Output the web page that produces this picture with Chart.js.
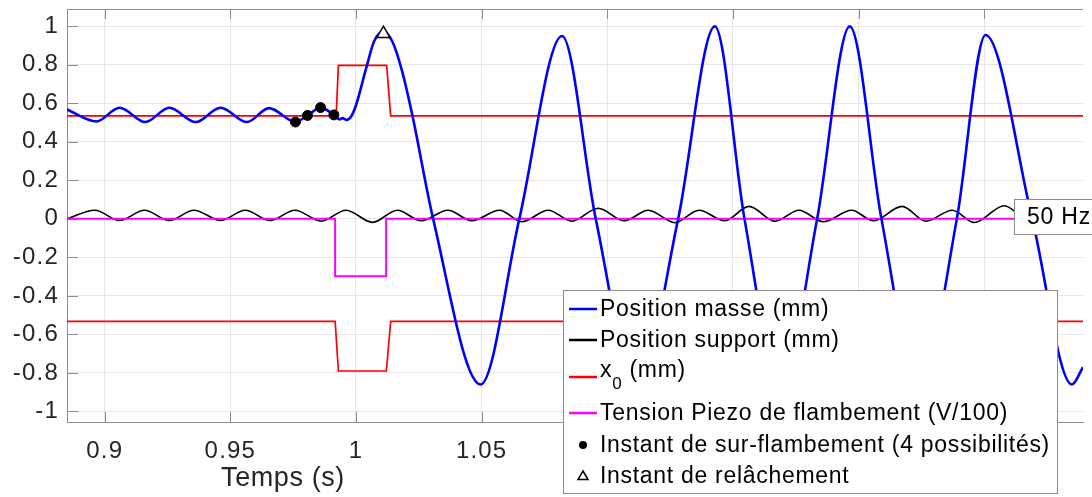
<!DOCTYPE html>
<html>
<head>
<meta charset="utf-8">
<script src="https://cdn.jsdelivr.net/npm/chart.js@4.4.1/dist/chart.umd.min.js"></script>
<style>
  html, body { margin: 0; padding: 0; background: #fff; }
</style>
</head>
<body>
<canvas id="chart" width="1092" height="497"></canvas>
<script>
"use strict";

// valeurs (temps en s)
const masseT = [0.8850, 0.8967, 0.9059, 0.9162, 0.9257, 0.9362, 0.9461, 0.9566, 0.9654, 0.9759,
  0.9807, 0.9859, 0.9912, 0.9934, 0.9947, 0.9961, 0.9980, 1.0000, 1.0040, 1.0073, 1.0109, 1.0145,
  1.0184, 1.0224, 1.0307, 1.0496, 1.0650, 1.0820, 1.0954, 1.1118, 1.1282, 1.1428, 1.1546, 1.1690,
  1.1835, 1.1965, 1.2091, 1.2241, 1.2391, 1.2505, 1.2691, 1.2849, 1.2893];
const masseY = [0.568, 0.506, 0.577, 0.503, 0.577, 0.503, 0.577, 0.503, 0.575, 0.503,
  0.537, 0.578, 0.540, 0.517, 0.523, 0.514, 0.530, 0.590, 0.780, 0.925, 0.970, 0.920,
  0.765, 0.540, 0.000, -0.860, 0.000, 0.950, 0.000, -0.870, 0.000, 1.000, 0.000, -0.870,
  0.000, 1.000, 0.000, -0.870, 0.000, 0.955, 0.000, -0.860, -0.770];

const supportT = [0.8850, 0.8961, 0.9059, 0.9158, 0.9257, 0.9355, 0.9461, 0.9559, 0.9658, 0.9757,
  0.9862, 0.9960, 1.0066, 1.0165, 1.0259, 1.0366, 1.0461, 1.0571, 1.0660, 1.0765, 1.0859, 1.0964,
  1.1068, 1.1163, 1.1269, 1.1365, 1.1467, 1.1564, 1.1668, 1.1763, 1.1860, 1.1972, 1.2059, 1.2173,
  1.2268, 1.2373, 1.2460, 1.2580, 1.2679, 1.2778, 1.2880];
const supportY = [0.000, 0.045, -0.008, 0.045, -0.008, 0.045, -0.008, 0.045, -0.008, 0.045,
  -0.012, 0.045, -0.018, 0.045, -0.010, 0.045, -0.010, 0.045, -0.015, 0.045, -0.012, 0.055,
  -0.010, 0.045, -0.020, 0.045, -0.010, 0.065, -0.012, 0.045, -0.015, 0.045, -0.010, 0.065,
  -0.012, 0.045, -0.019, 0.068, -0.010, 0.050, -0.010];

const x0HautT = [0.8850, 0.9921, 0.9930, 1.0122, 1.0138, 1.2893];
const x0HautY = [0.535, 0.535, 0.797, 0.797, 0.535, 0.535];
const x0BasT = [0.8850, 0.9917, 0.9930, 1.0121, 1.0138, 1.2893];
const x0BasY = [-0.532, -0.532, -0.790, -0.790, -0.532, -0.532];

const piezoT = [0.8850, 0.9917, 0.9917, 1.0120, 1.0120, 1.2893];
const piezoY = [0.000, 0.000, -0.298, -0.298, 0.000, 0.000];

const surT = [0.9759, 0.9807, 0.9859, 0.9912];
const surY = [0.503, 0.537, 0.578, 0.540];
const relT = [1.0109];
const relY = [0.962];

const xTicks = [0.9, 0.95, 1, 1.05, 1.1, 1.15, 1.2, 1.25];
const yTicks = [-1, -0.8, -0.6, -0.4, -0.2, 0, 0.2, 0.4, 0.6, 0.8, 1];

const labels = ["Position masse (mm)", "Position support (mm)", "x_0 (mm)",
  "Tension Piezo de flambement (V/100)", "Instant de sur-flambement (4 possibilités)",
  "Instant de relâchement"];

function pts(t, y) {
  return t.map((v, i) => ({ x: v, y: y[i] }));
}

const police = '"Liberation Sans", Arial, sans-serif';
const gris = "#8c8c8c";

const decor = {
  id: "decor",
  beforeDraw(chart) {
    chart.ctx.letterSpacing = "1.2px";
  },
  beforeDatasetsDraw(chart) {
    const ctx = chart.ctx;
    const a = chart.chartArea;
    const sx = chart.scales.x, sy = chart.scales.y;
    ctx.save();
    ctx.strokeStyle = gris;
    ctx.lineWidth = 1;
    ctx.beginPath();
    ctx.moveTo(a.left, a.top + 0.5);
    ctx.lineTo(a.right, a.top + 0.5);
    xTicks.forEach(v => {
      const p = Math.round(sx.getPixelForValue(v)) + 0.5;
      ctx.moveTo(p, a.bottom);
      ctx.lineTo(p, a.bottom - 10);
      ctx.moveTo(p, a.top);
      ctx.lineTo(p, a.top + 10);
    });
    yTicks.forEach(v => {
      const p = Math.round(sy.getPixelForValue(v)) + 0.5;
      ctx.moveTo(a.left, p);
      ctx.lineTo(a.left + 11, p);
    });
    ctx.stroke();
    ctx.restore();
  },
  afterDraw(chart) {
    const ctx = chart.ctx;
    ctx.save();

    // titre de l'axe x
    ctx.letterSpacing = "0.6px";
    ctx.fillStyle = "#262626";
    ctx.font = "27px " + police;
    ctx.textAlign = "center";
    ctx.textBaseline = "middle";
    ctx.fillText("Temps (s)", 283, 479);

    // boite 50 Hz
    ctx.fillStyle = "#fff";
    ctx.strokeStyle = gris;
    ctx.lineWidth = 1;
    ctx.fillRect(1014.5, 199.5, 90, 35);
    ctx.strokeRect(1014.5, 199.5, 90, 35);
    ctx.fillStyle = "#000";
    ctx.textAlign = "left";
    ctx.letterSpacing = "0.8px";
    ctx.font = "23px " + police;
    ctx.fillText("50 Hz", 1027, 218);

    // legende
    ctx.fillStyle = "#fff";
    ctx.fillRect(563.5, 290.5, 494, 203);
    ctx.strokeRect(563.5, 290.5, 494, 203);
    const rows = [309, 340, 377, 413, 445, 476];
    const ds = chart.data.datasets;
    const items = [ds[0], ds[1], ds[2], ds[4], ds[5], ds[6]];
    items.forEach((d, i) => {
      const y = rows[i];
      ctx.strokeStyle = d.borderColor;
      if (d.showLine !== false) {
        ctx.lineWidth = 2.5;
        ctx.beginPath();
        ctx.moveTo(569, y);
        ctx.lineTo(597, y);
        ctx.stroke();
      } else if (d.pointStyle === "triangle") {
        ctx.lineWidth = 1.5;
        ctx.strokeStyle = "#000";
        ctx.beginPath();
        ctx.moveTo(583, y - 5);
        ctx.lineTo(588, y + 3.5);
        ctx.lineTo(578, y + 3.5);
        ctx.closePath();
        ctx.stroke();
      } else {
        ctx.fillStyle = "#000";
        ctx.beginPath();
        ctx.arc(583, y, 4, 0, Math.PI * 2);
        ctx.fill();
      }
      ctx.fillStyle = "#000";
      ctx.font = "23px " + police;
      ctx.letterSpacing = "0.7px";
      const lab = labels[i];
      if (lab.indexOf("_") > 0) {
        const parts = lab.split("_");
        ctx.fillText(parts[0], 600, y - 6);
        let x = 600 + ctx.measureText(parts[0]).width;
        ctx.font = "17px " + police;
        ctx.fillText(parts[1].charAt(0), x, y + 7);
        x += ctx.measureText(parts[1].charAt(0)).width;
        ctx.font = "23px " + police;
        ctx.fillText(parts[1].slice(1), x, y - 6);
      } else {
        ctx.fillText(lab, 600, y + 1);
      }
    });
    ctx.restore();
  }
};

const ctx = document.getElementById("chart");

const chart = new Chart(ctx, {
  type: "line",
  data: {
    datasets: [
      {
        label: labels[0], data: pts(masseT, masseY), borderColor: "#0000ff",
        borderWidth: 2.6, pointRadius: 0, cubicInterpolationMode: "monotone", order: 1
      },
      {
        label: labels[1], data: pts(supportT, supportY), borderColor: "#000000",
        borderWidth: 1.6, pointRadius: 0, cubicInterpolationMode: "monotone", order: 3
      },
      {
        label: labels[2], data: pts(x0HautT, x0HautY), borderColor: "#ff0000",
        borderWidth: 1.7, pointRadius: 0, tension: 0, order: 4
      },
      {
        label: "x0 bas", data: pts(x0BasT, x0BasY), borderColor: "#ff0000",
        borderWidth: 1.7, pointRadius: 0, tension: 0, order: 4
      },
      {
        label: labels[3], data: pts(piezoT, piezoY), borderColor: "#ff00ff",
        borderWidth: 2, pointRadius: 0, tension: 0, order: 2
      },
      {
        label: labels[4], data: pts(surT, surY), borderColor: "#000000",
        backgroundColor: "#000000", showLine: false, pointRadius: 5,
        pointStyle: "circle", order: 0
      },
      {
        label: labels[5], data: pts(relT, relY), borderColor: "#000000",
        backgroundColor: "#ffffff", showLine: false, pointRadius: 7.5,
        pointBorderWidth: 1.5, pointStyle: "triangle", order: 0
      }
    ]
  },
  options: {
    responsive: false,
    animation: false,
    events: [],
    layout: { padding: { top: 7, right: 0, left: 0, bottom: 0 } },
    plugins: { legend: { display: false }, tooltip: { enabled: false } },
    scales: {
      x: {
        type: "linear",
        min: 0.885,
        max: 1.2893,
        afterBuildTicks: s => { s.ticks = xTicks.map(v => ({ value: v })); },
        afterFit: s => { s.height = 75; s.paddingLeft = 0; s.paddingRight = 0; },
        grid: { color: "#e6e6e6", drawTicks: false },
        border: { display: true, color: gris, width: 1 },
        ticks: {
          padding: 15,
          color: "#262626",
          font: { family: police, size: 24 },
          maxRotation: 0,
          autoSkip: false,
          callback: v => String(+v.toFixed(2))
        }
      },
      y: {
        type: "linear",
        min: -1.055,
        max: 1.09,
        afterBuildTicks: s => { s.ticks = yTicks.map(v => ({ value: v })); },
        afterFit: s => { s.width = 67; s.paddingTop = 0; s.paddingBottom = 0; },
        grid: { color: "#e6e6e6", drawTicks: false },
        border: { display: true, color: gris, width: 1 },
        ticks: {
          padding: 8,
          color: "#262626",
          font: { family: police, size: 24 },
          autoSkip: false,
          callback: v => String(+v.toFixed(1))
        }
      }
    }
  },
  plugins: [decor]
});
</script>
</body>
</html>
